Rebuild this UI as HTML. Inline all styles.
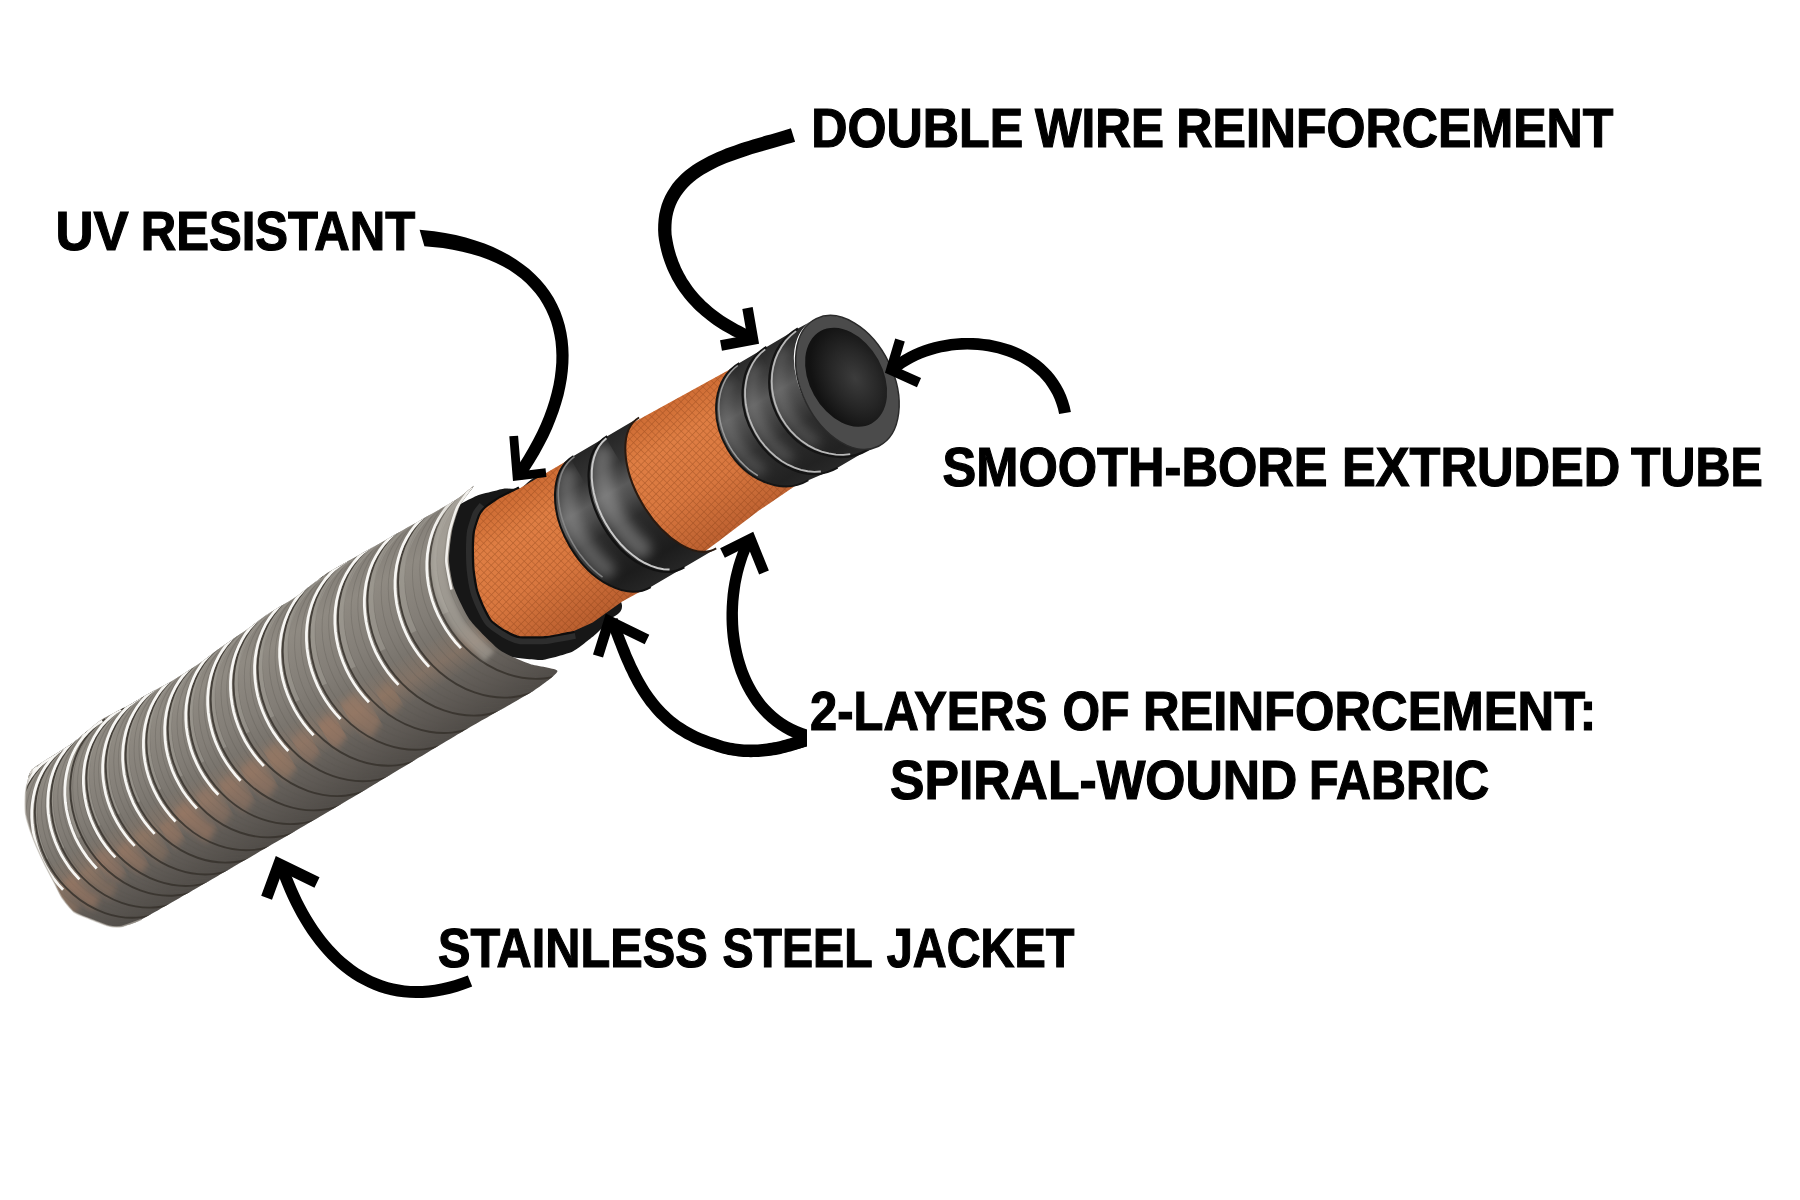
<!DOCTYPE html>
<html><head><meta charset="utf-8"><title>Hose diagram</title>
<style>html,body{margin:0;padding:0;background:#fff;overflow:hidden}svg{display:block}</style></head>
<body>
<svg width="1800" height="1200" viewBox="0 0 1800 1200">
<defs>
<linearGradient id="gSteel" gradientUnits="userSpaceOnUse" x1="0" y1="-100" x2="0" y2="105">
 <stop offset="0" stop-color="#847f78"/>
 <stop offset="0.15" stop-color="#8f8a82"/>
 <stop offset="0.4" stop-color="#837e77"/>
 <stop offset="0.6" stop-color="#746f68"/>
 <stop offset="0.8" stop-color="#615c57"/>
 <stop offset="1" stop-color="#4e4a46"/>
</linearGradient>
<linearGradient id="gCopper" gradientUnits="userSpaceOnUse" x1="0" y1="-100" x2="0" y2="105">
 <stop offset="0.52" stop-color="#c48a66" stop-opacity="0"/>
 <stop offset="0.64" stop-color="#c48a66" stop-opacity="0.6"/>
 <stop offset="0.74" stop-color="#c48a66" stop-opacity="0"/>
</linearGradient>
<linearGradient id="gOrange" gradientUnits="userSpaceOnUse" x1="0" y1="-80" x2="0" y2="75">
 <stop offset="0" stop-color="#c9662d"/>
 <stop offset="0.25" stop-color="#dc7b3f"/>
 <stop offset="0.6" stop-color="#d5733a"/>
 <stop offset="1" stop-color="#b35828"/>
</linearGradient>
<pattern id="pKnurl" patternUnits="userSpaceOnUse" width="5.2" height="5.2" patternTransform="rotate(75)">
 <rect width="5.2" height="5.2" fill="#ffb27a" fill-opacity="0.07"/>
 <path d="M0,0 H5.2 M0,0 V5.2" stroke="#7a3510" stroke-width="1.4" stroke-opacity="0.38"/>
</pattern>
<linearGradient id="gBlack" gradientUnits="userSpaceOnUse" x1="0" y1="-78" x2="0" y2="72">
 <stop offset="0" stop-color="#262626"/>
 <stop offset="0.18" stop-color="#343434"/>
 <stop offset="0.33" stop-color="#5a5a5a"/>
 <stop offset="0.42" stop-color="#4c4c4c"/>
 <stop offset="0.55" stop-color="#2c2c2c"/>
 <stop offset="0.85" stop-color="#1c1c1c"/>
 <stop offset="1" stop-color="#262626"/>
</linearGradient>
<linearGradient id="gTube" gradientUnits="userSpaceOnUse" x1="0" y1="-75" x2="0" y2="70">
 <stop offset="0" stop-color="#2a2a2a"/>
 <stop offset="0.15" stop-color="#3a3a3a"/>
 <stop offset="0.3" stop-color="#585858"/>
 <stop offset="0.42" stop-color="#484848"/>
 <stop offset="0.58" stop-color="#2e2e2e"/>
 <stop offset="0.85" stop-color="#222"/>
 <stop offset="1" stop-color="#2a2a2a"/>
</linearGradient>
<radialGradient id="gHole" cx="0.6" cy="0.55" r="0.55">
 <stop offset="0" stop-color="#3c3c3c"/>
 <stop offset="0.55" stop-color="#262626"/>
 <stop offset="1" stop-color="#121212"/>
</radialGradient>
<filter id="fBlur" x="-50%" y="-50%" width="200%" height="200%"><feGaussianBlur stdDeviation="5.5"/></filter>
<filter id="fBlur2" x="-50%" y="-50%" width="200%" height="200%"><feGaussianBlur stdDeviation="2"/></filter>
<filter id="fBlur3" x="-50%" y="-50%" width="200%" height="200%"><feGaussianBlur stdDeviation="3.2"/></filter>
<clipPath id="cJacket"><path d="M-377,-84 C-383.1,-82.6 -388.8,-74.3 -391,-72 C-393.2,-69.7 -397.5,-63.4 -399,-61 C-400.5,-58.6 -404.9,-50.8 -406,-48 C-407.1,-45.2 -409.3,-36.3 -410,-33 C-410.7,-29.7 -412.5,-18.8 -413,-15 C-413.5,-11.2 -414.7,1 -415,5 C-415.3,9 -415.8,21.3 -416,25 C-416.2,28.7 -417.2,38.5 -417,42 C-416.8,45.5 -415.3,56.8 -414,60 C-412.7,63.2 -406.3,71 -404,74 C-401.7,77 -393.4,87.7 -391,90 C-388.6,92.3 -383.1,95.9 -380,97 C-376.9,98.1 -368.8,100.5 -360,101 C-351.2,101.5 -314.2,101.8 -292,102 C-269.8,102.2 -168.9,103 -138,103 C-107.1,103 -6.2,102 17,102 C40.2,102 83.2,103.4 94,103 C104.8,102.6 123.9,100.5 125,98 C126.1,95.5 108.9,82.7 105,78 C101.1,73.3 89,57.8 86,51 C83,44.2 76.3,17.7 75.5,10 C74.7,2.3 76.8,-19.7 78,-26 C79.2,-32.3 85.2,-47.9 88,-53 C90.8,-58.1 102.3,-72.9 106,-77 C109.7,-81.1 120.9,-91.3 125,-94 C129.1,-96.7 147.1,-103.3 147,-104 C146.9,-104.7 133.9,-101.2 124,-101 C114.1,-100.8 61.3,-101.8 48,-102 C34.7,-102.2 -1.5,-102.9 -9,-103 C-16.5,-103.1 -21.5,-103.5 -27,-103 C-32.5,-102.5 -57.2,-99 -64,-98.5 C-70.8,-98 -88.9,-98.3 -95,-98 C-101.1,-97.7 -119.1,-95.5 -125,-95 C-130.9,-94.5 -148.3,-93.5 -154,-93 C-159.7,-92.5 -176.2,-90.4 -182,-90 C-187.8,-89.6 -206.4,-89 -212,-89 C-217.6,-89 -233.2,-89.9 -238,-90 C-242.8,-90.1 -254.4,-89.8 -260,-90 C-265.6,-90.2 -287,-91.9 -294,-91.5 C-301,-91.1 -321.7,-86.8 -330,-86 C-338.3,-85.2 -370.9,-85.4 -377,-84Z"/></clipPath>
</defs>
<rect width="1800" height="1200" fill="#fff"/>
<g transform="translate(400,650) rotate(-30.5)">
<path d="M162,-89 C159.7,-89.7 147.7,-93.5 144,-94 C140.3,-94.5 121.7,-95.8 118,-95 C114.3,-94.2 103,-87.8 100,-85 C97,-82.2 84.5,-66.2 82,-62 C79.5,-57.8 71.3,-38.8 70,-34 C68.7,-29.2 66.2,-9 66,-5 C65.8,-1 67.2,10.2 68,14 C68.8,17.8 74,37 76,41 C78,45 88.5,58.7 92,62 C95.5,65.3 113.3,78.8 118,81 C122.7,83.2 143.2,88.6 148,89 C152.8,89.4 170.8,86.8 175,86 C179.2,85.2 194.7,81.3 198,80 C201.3,78.7 213.6,82.8 215,70 C216.4,57.2 217.4,-61.7 215,-74 C212.6,-86.3 189.6,-77 186,-78 C182.4,-79 174,-85.1 172,-86 C170,-86.9 164.3,-88.3 162,-89Z" fill="#171717"/>
<path d="M160,72 C158.8,71.6 148.2,67.8 146,67 C143.8,66.2 136,63.5 133,62 C130,60.5 113.1,51.1 110.5,49 C107.9,46.9 102.8,39.3 101.5,37 C100.2,34.7 95,23.8 94.5,21 C94,18.2 94.7,6.8 95,4 C95.3,1.2 96.9,-9.1 97.7,-12 C98.5,-14.9 103.6,-27.9 105,-31 C106.4,-34 112.9,-45.9 114.5,-48.6 C116.1,-51.3 122.6,-61.4 124.5,-63.6 C126.4,-65.8 135.2,-73.7 137,-75 C138.8,-76.3 145.2,-78.4 146,-78.7" fill="none" stroke="#2d2d2d" stroke-width="16"/>
<path d="M160,72 C158.8,71.6 148.2,67.8 146,67 C143.8,66.2 136,63.5 133,62 C130,60.5 113.1,51.1 110.5,49 C107.9,46.9 102.8,39.3 101.5,37 C100.2,34.7 95,23.8 94.5,21 C94,18.2 94.7,6.8 95,4 C95.3,1.2 96.9,-9.1 97.7,-12 C98.5,-14.9 103.6,-27.9 105,-31 C106.4,-34 112.9,-45.9 114.5,-48.6 C116.1,-51.3 122.6,-61.4 124.5,-63.6 C126.4,-65.8 135.2,-73.7 137,-75 C138.8,-76.3 143.8,-78.3 146,-78.7 C148.2,-79.1 159.8,-80 163,-80 C166.2,-80 183.2,-78.6 185,-78.5" fill="none" stroke="#0d0d0d" stroke-width="4.5"/>
<path d="M160,72 C158.8,71.6 148.2,67.8 146,67 C143.8,66.2 136,63.5 133,62 C130,60.5 113.1,51.1 110.5,49 C107.9,46.9 102.8,39.3 101.5,37 C100.2,34.7 95,23.8 94.5,21 C94,18.2 94.7,6.8 95,4 C95.3,1.2 96.9,-9.1 97.7,-12 C98.5,-14.9 103.6,-27.9 105,-31 C106.4,-34 112.9,-45.9 114.5,-48.6 C116.1,-51.3 122.6,-61.4 124.5,-63.6 C126.4,-65.8 135.2,-73.7 137,-75 C138.8,-76.3 143.8,-78.3 146,-78.7 C148.2,-79.1 159.8,-80 163,-80 C166.2,-80 183.2,-78.6 185,-78.5 L300,-78 L440,-74 L440,58 L380,62 L330,68 L300,71 L250,72 L216,71 L180,74Z" fill="url(#gOrange)"/>
<path d="M160,72 C158.8,71.6 148.2,67.8 146,67 C143.8,66.2 136,63.5 133,62 C130,60.5 113.1,51.1 110.5,49 C107.9,46.9 102.8,39.3 101.5,37 C100.2,34.7 95,23.8 94.5,21 C94,18.2 94.7,6.8 95,4 C95.3,1.2 96.9,-9.1 97.7,-12 C98.5,-14.9 103.6,-27.9 105,-31 C106.4,-34 112.9,-45.9 114.5,-48.6 C116.1,-51.3 122.6,-61.4 124.5,-63.6 C126.4,-65.8 135.2,-73.7 137,-75 C138.8,-76.3 143.8,-78.3 146,-78.7 C148.2,-79.1 159.8,-80 163,-80 C166.2,-80 183.2,-78.6 185,-78.5 L300,-78 L440,-74 L440,58 L380,62 L330,68 L300,71 L250,72 L216,71 L180,74Z" fill="url(#pKnurl)"/>
<path d="M248,-79 A49,76 0 0 0 248,73 L287,73 A49,76 0 0 1 287,-79Z" fill="url(#gBlack)"/>
<path d="M287,-79 A49,76 0 0 0 287,73 L324,73 A41,76 0 0 1 324,-79Z" fill="url(#gBlack)"/>
<clipPath id="cr1"><path d="M248,-79 A49,76 0 0 0 248,73 L287,73 A49,76 0 0 1 287,-79Z"/></clipPath>
<g clip-path="url(#cr1)"><path d="M232.9,-65.3 L229.3,-61 L226,-56.2 L223,-50.9 L220.3,-45.2 L217.9,-39.2 L215.9,-32.8 L214.3,-26.2 L213.2,-19.4 L212.4,-12.5 L212,-5.5 L212.1,1.6 L212.6,8.6 L213.5,15.5 L214.8,22.2 L216.5,28.7 L218.6,35" fill="none" stroke="#a8a8a8" stroke-opacity="0.4" stroke-width="18" stroke-linecap="round" filter="url(#fBlur)"/></g>
<clipPath id="cr2"><path d="M287,-79 A49,76 0 0 0 287,73 L324,73 A41,76 0 0 1 324,-79Z"/></clipPath>
<g clip-path="url(#cr2)"><path d="M273.9,-65.3 L270.3,-61 L267,-56.2 L264,-50.9 L261.3,-45.2 L258.9,-39.2 L256.9,-32.8 L255.3,-26.2 L254.2,-19.4 L253.4,-12.5 L253,-5.5 L253.1,1.6 L253.6,8.6 L254.5,15.5 L255.8,22.2 L257.5,28.7 L259.6,35" fill="none" stroke="#a8a8a8" stroke-opacity="0.45" stroke-width="20" stroke-linecap="round" filter="url(#fBlur)"/></g>
<path d="M248,-79 A49,76 0 0 0 248,73" fill="none" stroke="#121212" stroke-width="2"/>
<path d="M248.4,-78 L244.2,-77.4 L240,-76.3 L236,-74.6 L232,-72.3 L228.2,-69.5 L224.6,-66.1 L221.1,-62.2 L217.9,-57.9 L215,-53.1 L212.3,-47.9 L210,-42.3 L207.9,-36.5 L206.2,-30.3 L204.9,-24 L203.9,-17.5 L203.3,-10.8 L203,-4.1 L203.1,2.6 L203.6,9.2 L204.5,15.8 L205.7,22.2 L207.3,28.4 L209.2,34.4 L211.5,40" fill="none" stroke="#8a8a8a" stroke-width="1.6" stroke-opacity="0.9"/>
<path d="M287,-79 A49,76 0 0 0 287,73" fill="none" stroke="#111" stroke-width="2.2"/>
<path d="M285.3,-77.7 L280,-76.5 L274.7,-74.4 L269.7,-71.3 L264.9,-67.4 L260.4,-62.7 L256.3,-57.2 L252.6,-51 L249.4,-44.2 L246.7,-36.9 L244.5,-29.2 L242.9,-21.1 L241.9,-12.8 L241.5,-4.4 L241.7,4.1 L242.5,12.4 L243.9,20.6 L245.9,28.4 L248.5,35.9 L251.5,42.9 L255.1,49.3 L259,55 L263.4,60 L268.1,64.1 L273.1,67.5" fill="none" stroke="#c8c8c8" stroke-width="2"/>
<path d="M324,-79 A41,76 0 0 0 324,73" fill="none" stroke="#2a1a10" stroke-width="2"/>
<path d="M438,-75 A53.7,68 0 0 0 438,61 L469.6,65 A55.4,70 0 0 1 469.6,-75Z" fill="url(#gTube)"/>
<path d="M469.6,-75 A55.4,70 0 0 0 469.6,65 L506,65 A62,70 0 0 1 506,-75Z" fill="url(#gTube)"/>
<path d="M506,-75 A62,70 0 0 0 506,65 L521.3,67.5 A46,71 0 0 1 521.3,-74.5Z" fill="url(#gTube)"/>
<clipPath id="cr3"><path d="M438,-75 A53.7,68 0 0 0 438,61 L469.6,65 A55.4,70 0 0 1 469.6,-75Z"/></clipPath>
<g clip-path="url(#cr3)"><path d="M417.2,-62.7 L413.3,-58.9 L409.6,-54.6 L406.3,-49.9 L403.4,-44.8 L400.8,-39.4 L398.6,-33.7 L396.9,-27.8 L395.6,-21.7 L394.7,-15.5 L394.3,-9.2 L394.4,-2.9 L394.9,3.3 L395.9,9.5 L397.3,15.6 L399.2,21.4 L401.5,27" fill="none" stroke="#a8a8a8" stroke-opacity="0.28" stroke-width="12" stroke-linecap="round" filter="url(#fBlur)"/></g>
<clipPath id="cr4"><path d="M469.6,-75 A55.4,70 0 0 0 469.6,65 L506,65 A62,70 0 0 1 506,-75Z"/></clipPath>
<g clip-path="url(#cr4)"><path d="M447.8,-62.3 L443.8,-58.4 L440,-54 L436.6,-49.1 L433.5,-43.9 L430.9,-38.3 L428.7,-32.5 L426.9,-26.4 L425.5,-20.2 L424.6,-13.8 L424.2,-7.3 L424.3,-0.8 L424.8,5.6 L425.9,12 L427.3,18.2 L429.3,24.2 L431.6,30" fill="none" stroke="#a8a8a8" stroke-opacity="0.3" stroke-width="12" stroke-linecap="round" filter="url(#fBlur)"/></g>
<clipPath id="cr5"><path d="M506,-75 A62,70 0 0 0 506,65 L521.3,67.5 A46,71 0 0 1 521.3,-74.5Z"/></clipPath>
<g clip-path="url(#cr5)"><path d="M480.4,-62.3 L475.9,-58.4 L471.7,-54 L467.9,-49.1 L464.4,-43.9 L461.5,-38.3 L459,-32.5 L457,-26.4 L455.5,-20.2 L454.5,-13.8 L454,-7.3 L454.1,-0.8 L454.7,5.6 L455.9,12 L457.5,18.2 L459.7,24.2 L462.3,30" fill="none" stroke="#a8a8a8" stroke-opacity="0.28" stroke-width="12" stroke-linecap="round" filter="url(#fBlur)"/></g>
<path d="M438,-75 A53.7,68 0 0 0 438,61" fill="none" stroke="#151515" stroke-width="2"/>
<path d="M435.4,-73.7 L430.8,-73 L426.4,-71.7 L422,-70 L417.7,-67.7 L413.7,-65 L409.8,-61.9 L406.1,-58.3 L402.7,-54.4 L399.6,-50.1 L396.8,-45.4 L394.4,-40.5 L392.2,-35.3 L390.5,-29.9 L389.1,-24.3 L388.1,-18.6 L387.5,-12.8 L387.3,-7 L387.5,-1.2 L388.1,4.6 L389.1,10.3 L390.5,15.9 L392.2,21.3 L394.4,26.5 L396.8,31.4" fill="none" stroke="#9a9a9a" stroke-width="1.5"/>
<path d="M469.6,-75 A55.4,70 0 0 0 469.6,65" fill="none" stroke="#141414" stroke-width="2.2"/>
<path d="M467.3,-73.7 L461.1,-72.6 L455.1,-70.7 L449.2,-67.8 L443.7,-64.2 L438.5,-59.9 L433.8,-54.8 L429.5,-49.2 L425.8,-42.9 L422.7,-36.2 L420.2,-29.1 L418.3,-21.6 L417.2,-14 L416.7,-6.3 L416.9,1.5 L417.9,9.2 L419.5,16.7 L421.8,23.9 L424.7,30.8 L428.3,37.2 L432.4,43.1 L437,48.3 L442,52.9 L447.4,56.8 L453.2,59.8" fill="none" stroke="#b8b8b8" stroke-width="1.8"/>
<path d="M506,-75 A62,70 0 0 0 506,65" fill="none" stroke="#141414" stroke-width="2.2"/>
<path d="M503.1,-73.7 L496.2,-72.6 L489.4,-70.7 L482.9,-67.8 L476.7,-64.2 L470.9,-59.9 L465.6,-54.8 L460.9,-49.2 L456.7,-42.9 L453.2,-36.2 L450.4,-29.1 L448.3,-21.6 L447,-14 L446.5,-6.3 L446.8,1.5 L447.8,9.2 L449.6,16.7 L452.2,23.9 L455.5,30.8 L459.4,37.2 L464,43.1 L469.2,48.3 L474.8,52.9 L480.9,56.8 L487.3,59.8" fill="none" stroke="#b8b8b8" stroke-width="1.8"/>
<g transform="translate(521.3,-3.5) rotate(4.5)"><ellipse cx="0" cy="0" rx="46" ry="71" fill="#4b4b4b" stroke="#2a2a2a" stroke-width="1.5"/></g>
<g transform="translate(522.8,-8.6) rotate(1.5)"><ellipse cx="0" cy="0" rx="36.7" ry="52.8" fill="url(#gHole)"/></g>
<path d="M-377,-84 C-383.1,-82.6 -388.8,-74.3 -391,-72 C-393.2,-69.7 -397.5,-63.4 -399,-61 C-400.5,-58.6 -404.9,-50.8 -406,-48 C-407.1,-45.2 -409.3,-36.3 -410,-33 C-410.7,-29.7 -412.5,-18.8 -413,-15 C-413.5,-11.2 -414.7,1 -415,5 C-415.3,9 -415.8,21.3 -416,25 C-416.2,28.7 -417.2,38.5 -417,42 C-416.8,45.5 -415.3,56.8 -414,60 C-412.7,63.2 -406.3,71 -404,74 C-401.7,77 -393.4,87.7 -391,90 C-388.6,92.3 -383.1,95.9 -380,97 C-376.9,98.1 -368.8,100.5 -360,101 C-351.2,101.5 -314.2,101.8 -292,102 C-269.8,102.2 -168.9,103 -138,103 C-107.1,103 -6.2,102 17,102 C40.2,102 83.2,103.4 94,103 C104.8,102.6 123.9,100.5 125,98 C126.1,95.5 108.9,82.7 105,78 C101.1,73.3 89,57.8 86,51 C83,44.2 76.3,17.7 75.5,10 C74.7,2.3 76.8,-19.7 78,-26 C79.2,-32.3 85.2,-47.9 88,-53 C90.8,-58.1 102.3,-72.9 106,-77 C109.7,-81.1 120.9,-91.3 125,-94 C129.1,-96.7 147.1,-103.3 147,-104 C146.9,-104.7 133.9,-101.2 124,-101 C114.1,-100.8 61.3,-101.8 48,-102 C34.7,-102.2 -1.5,-102.9 -9,-103 C-16.5,-103.1 -21.5,-103.5 -27,-103 C-32.5,-102.5 -57.2,-99 -64,-98.5 C-70.8,-98 -88.9,-98.3 -95,-98 C-101.1,-97.7 -119.1,-95.5 -125,-95 C-130.9,-94.5 -148.3,-93.5 -154,-93 C-159.7,-92.5 -176.2,-90.4 -182,-90 C-187.8,-89.6 -206.4,-89 -212,-89 C-217.6,-89 -233.2,-89.9 -238,-90 C-242.8,-90.1 -254.4,-89.8 -260,-90 C-265.6,-90.2 -287,-91.9 -294,-91.5 C-301,-91.1 -321.7,-86.8 -330,-86 C-338.3,-85.2 -370.9,-85.4 -377,-84Z" fill="url(#gSteel)"/>
<path d="M-377,-84 C-383.1,-82.6 -388.8,-74.3 -391,-72 C-393.2,-69.7 -397.5,-63.4 -399,-61 C-400.5,-58.6 -404.9,-50.8 -406,-48 C-407.1,-45.2 -409.3,-36.3 -410,-33 C-410.7,-29.7 -412.5,-18.8 -413,-15 C-413.5,-11.2 -414.7,1 -415,5 C-415.3,9 -415.8,21.3 -416,25 C-416.2,28.7 -417.2,38.5 -417,42 C-416.8,45.5 -415.3,56.8 -414,60 C-412.7,63.2 -406.3,71 -404,74 C-401.7,77 -393.4,87.7 -391,90 C-388.6,92.3 -383.1,95.9 -380,97 C-376.9,98.1 -368.8,100.5 -360,101 C-351.2,101.5 -314.2,101.8 -292,102 C-269.8,102.2 -168.9,103 -138,103 C-107.1,103 -6.2,102 17,102 C40.2,102 83.2,103.4 94,103 C104.8,102.6 123.9,100.5 125,98 C126.1,95.5 108.9,82.7 105,78 C101.1,73.3 89,57.8 86,51 C83,44.2 76.3,17.7 75.5,10 C74.7,2.3 76.8,-19.7 78,-26 C79.2,-32.3 85.2,-47.9 88,-53 C90.8,-58.1 102.3,-72.9 106,-77 C109.7,-81.1 120.9,-91.3 125,-94 C129.1,-96.7 147.1,-103.3 147,-104 C146.9,-104.7 133.9,-101.2 124,-101 C114.1,-100.8 61.3,-101.8 48,-102 C34.7,-102.2 -1.5,-102.9 -9,-103 C-16.5,-103.1 -21.5,-103.5 -27,-103 C-32.5,-102.5 -57.2,-99 -64,-98.5 C-70.8,-98 -88.9,-98.3 -95,-98 C-101.1,-97.7 -119.1,-95.5 -125,-95 C-130.9,-94.5 -148.3,-93.5 -154,-93 C-159.7,-92.5 -176.2,-90.4 -182,-90 C-187.8,-89.6 -206.4,-89 -212,-89 C-217.6,-89 -233.2,-89.9 -238,-90 C-242.8,-90.1 -254.4,-89.8 -260,-90 C-265.6,-90.2 -287,-91.9 -294,-91.5 C-301,-91.1 -321.7,-86.8 -330,-86 C-338.3,-85.2 -370.9,-85.4 -377,-84Z" fill="url(#gCopper)" opacity="0.35"/>
<g clip-path="url(#cJacket)" fill="none">
<path d="M-366.4,-82.8 A79.8,93.9 0 0 0 -366.4,105" stroke="#5a554f" stroke-width="0.9" stroke-opacity="0.3"/>
<path d="M-361.7,-82.8 A79.8,93.9 0 0 0 -361.7,105" stroke="#5a554f" stroke-width="0.9" stroke-opacity="0.3"/>
<path d="M-357.4,-82.8 A79.8,93.9 0 0 0 -357.4,105" stroke="#5a554f" stroke-width="0.9" stroke-opacity="0.3"/>
<path d="M-368.2,-82.8 L-373.2,-82.6 L-378.1,-82.1 L-383,-81.2 L-387.8,-79.9 L-392.5,-78.4 L-397.2,-76.4 L-401.7,-74.1 L-406.1,-71.6 L-410.4,-68.6 L-414.5,-65.4 L-418.4,-61.9 L-422.2,-58.1 L-425.7,-54.1 L-429,-49.8 L-432.1,-45.2 L-434.9,-40.5 L-437.5,-35.6 L-439.8,-30.4 L-441.9,-25.1 L-443.6,-19.7 L-445.1,-14.2 L-446.3,-8.6 L-447.2,-2.8 L-447.8,2.9" stroke="#b3aea6" stroke-width="3.4" stroke-opacity="0.35"/>
<path d="M-441.2,27.5 L-440.6,31.3 L-439.8,35.1 L-438.8,38.9 L-437.8,42.7 L-436.6,46.3 L-435.3,49.9 L-433.8,53.5 L-432.3,56.9 L-430.6,60.3 L-428.8,63.6" stroke="#a27a62" stroke-width="13.1" stroke-opacity="0.41" filter="url(#fBlur3)"/>
<path d="M-368.4,-82.8 A79.8,93.9 0 0 0 -368.4,105" stroke="#36312c" stroke-width="1.9" stroke-opacity="0.85"/>
<path d="M-372,-82.8 L-378.1,-82.5 L-384.3,-81.7 L-390.3,-80.3 L-396.2,-78.4 L-402,-75.9 L-407.6,-72.9 L-413,-69.5 L-418.2,-65.5 L-423,-61.1 L-427.6,-56.3 L-431.9,-51 L-435.7,-45.4 L-439.3,-39.5 L-442.4,-33.2 L-445.1,-26.7 L-447.3,-20 L-449.1,-13.1 L-450.5,-6 L-451.4,1.1 L-451.8,8.4 L-451.7,15.6 L-451.2,22.8 L-450.2,30 L-448.7,37" stroke="#f7f6f3" stroke-width="2.8"/>
<path d="M-347.4,-84.7 A80.6,94.8 0 0 0 -347.4,105" stroke="#5a554f" stroke-width="0.9" stroke-opacity="0.3"/>
<path d="M-342.5,-84.7 A80.6,94.8 0 0 0 -342.5,105" stroke="#5a554f" stroke-width="0.9" stroke-opacity="0.3"/>
<path d="M-338,-84.7 A80.6,94.8 0 0 0 -338,105" stroke="#5a554f" stroke-width="0.9" stroke-opacity="0.3"/>
<path d="M-349.3,-84.7 L-354.3,-84.5 L-359.3,-84 L-364.2,-83.1 L-369.1,-81.8 L-373.9,-80.2 L-378.5,-78.2 L-383.1,-75.9 L-387.6,-73.3 L-391.9,-70.4 L-396,-67.1 L-400,-63.6 L-403.8,-59.8 L-407.4,-55.7 L-410.7,-51.3 L-413.8,-46.7 L-416.7,-42 L-419.3,-37 L-421.6,-31.8 L-423.7,-26.4 L-425.5,-21 L-427,-15.4 L-428.2,-9.7 L-429.1,-3.9 L-429.6,1.9" stroke="#b3aea6" stroke-width="3.5" stroke-opacity="0.35"/>
<path d="M-422.3,29.9 L-421.7,33.2 L-420.9,36.5 L-420.1,39.8 L-419.1,43 L-418.1,46.2 L-416.9,49.3 L-415.7,52.4 L-414.3,55.4 L-412.9,58.4 L-411.4,61.3" stroke="#a27a62" stroke-width="13.6" stroke-opacity="0.46" filter="url(#fBlur3)"/>
<path d="M-349.6,-84.7 A80.6,94.8 0 0 0 -349.6,105" stroke="#36312c" stroke-width="1.9" stroke-opacity="0.85"/>
<path d="M-353.2,-84.7 L-359.4,-84.4 L-365.6,-83.6 L-371.7,-82.2 L-377.7,-80.2 L-383.5,-77.7 L-389.2,-74.7 L-394.6,-71.2 L-399.9,-67.2 L-404.8,-62.8 L-409.4,-57.9 L-413.7,-52.6 L-417.6,-46.9 L-421.2,-40.9 L-424.3,-34.6 L-427,-28 L-429.3,-21.2 L-431.1,-14.3 L-432.5,-7.1 L-433.4,0.1 L-433.8,7.4 L-433.7,14.7 L-433.2,22 L-432.2,29.2 L-430.7,36.3" stroke="#f7f6f3" stroke-width="2.8"/>
<path d="M-327.7,-86.6 A81.4,95.8 0 0 0 -327.7,105" stroke="#5a554f" stroke-width="0.9" stroke-opacity="0.3"/>
<path d="M-322.6,-86.6 A81.4,95.8 0 0 0 -322.6,105" stroke="#5a554f" stroke-width="0.9" stroke-opacity="0.3"/>
<path d="M-318,-86.6 A81.4,95.8 0 0 0 -318,105" stroke="#5a554f" stroke-width="0.9" stroke-opacity="0.3"/>
<path d="M-329.7,-86.6 L-334.7,-86.4 L-339.7,-85.9 L-344.7,-85 L-349.6,-83.7 L-354.5,-82.1 L-359.2,-80.1 L-363.8,-77.8 L-368.3,-75.1 L-372.7,-72.2 L-376.9,-68.9 L-380.9,-65.3 L-384.7,-61.5 L-388.3,-57.3 L-391.7,-52.9 L-394.8,-48.3 L-397.7,-43.5 L-400.4,-38.4 L-402.7,-33.2 L-404.8,-27.8 L-406.6,-22.3 L-408.1,-16.6 L-409.3,-10.9 L-410.2,-5 L-410.8,0.8" stroke="#b3aea6" stroke-width="3.6" stroke-opacity="0.35"/>
<path d="M-403.4,28.4 L-402.7,32.3 L-401.8,36.2 L-400.7,40 L-399.6,43.8 L-398.3,47.5 L-396.9,51.1 L-395.3,54.7 L-393.6,58.2 L-391.8,61.6 L-389.9,64.9" stroke="#a27a62" stroke-width="14.2" stroke-opacity="0.55" filter="url(#fBlur3)"/>
<path d="M-330.1,-86.6 A81.4,95.8 0 0 0 -330.1,105" stroke="#36312c" stroke-width="1.9" stroke-opacity="0.85"/>
<path d="M-333.7,-86.6 L-340,-86.3 L-346.2,-85.5 L-352.4,-84.1 L-358.5,-82.1 L-364.4,-79.6 L-370.1,-76.6 L-375.6,-73 L-380.8,-69 L-385.8,-64.5 L-390.5,-59.5 L-394.8,-54.2 L-398.8,-48.5 L-402.4,-42.4 L-405.5,-36 L-408.3,-29.4 L-410.6,-22.5 L-412.4,-15.5 L-413.8,-8.3 L-414.7,-1 L-415.1,6.4 L-415.1,13.8 L-414.5,21.1 L-413.5,28.4 L-412,35.6" stroke="#f7f6f3" stroke-width="2.8"/>
<path d="M-307.2,-88.6 A82.3,96.8 0 0 0 -307.2,105" stroke="#5a554f" stroke-width="0.9" stroke-opacity="0.3"/>
<path d="M-301.9,-88.6 A82.3,96.8 0 0 0 -301.9,105" stroke="#5a554f" stroke-width="0.9" stroke-opacity="0.3"/>
<path d="M-297.1,-88.6 A82.3,96.8 0 0 0 -297.1,105" stroke="#5a554f" stroke-width="0.9" stroke-opacity="0.3"/>
<path d="M-309.3,-88.6 L-314.4,-88.5 L-319.5,-87.9 L-324.5,-87 L-329.4,-85.7 L-334.3,-84.1 L-339.1,-82.1 L-343.8,-79.7 L-348.4,-77.1 L-352.8,-74 L-357,-70.7 L-361.1,-67.1 L-364.9,-63.2 L-368.5,-59 L-372,-54.6 L-375.1,-49.9 L-378.1,-45 L-380.7,-39.9 L-383.1,-34.6 L-385.2,-29.2 L-387,-23.6 L-388.6,-17.9 L-389.8,-12.1 L-390.7,-6.2 L-391.3,-0.3" stroke="#b3aea6" stroke-width="3.8" stroke-opacity="0.35"/>
<path d="M-383.3,29.3 L-382.5,33 L-381.6,36.7 L-380.6,40.4 L-379.5,44 L-378.2,47.6 L-376.8,51 L-375.3,54.5 L-373.7,57.8 L-371.9,61.1 L-370.1,64.3" stroke="#a27a62" stroke-width="14.7" stroke-opacity="0.36" filter="url(#fBlur3)"/>
<path d="M-309.9,-88.6 A82.3,96.8 0 0 0 -309.9,105" stroke="#36312c" stroke-width="1.9" stroke-opacity="0.85"/>
<path d="M-313.5,-88.6 L-319.8,-88.4 L-326.1,-87.5 L-332.4,-86.1 L-338.5,-84.1 L-344.4,-81.5 L-350.2,-78.5 L-355.8,-74.9 L-361.1,-70.8 L-366.1,-66.3 L-370.8,-61.3 L-375.2,-55.9 L-379.2,-50.1 L-382.9,-44 L-386.1,-37.5 L-388.8,-30.8 L-391.2,-23.9 L-393,-16.7 L-394.4,-9.5 L-395.3,-2.1 L-395.8,5.4 L-395.7,12.8 L-395.2,20.3 L-394.1,27.6 L-392.6,34.9" stroke="#f7f6f3" stroke-width="2.8"/>
<path d="M-286,-90.1 A82.9,97.6 0 0 0 -286,105" stroke="#5a554f" stroke-width="0.9" stroke-opacity="0.3"/>
<path d="M-280.5,-90.1 A82.9,97.6 0 0 0 -280.5,105" stroke="#5a554f" stroke-width="0.9" stroke-opacity="0.3"/>
<path d="M-275.5,-90.1 A82.9,97.6 0 0 0 -275.5,105" stroke="#5a554f" stroke-width="0.9" stroke-opacity="0.3"/>
<path d="M-288.1,-90.1 L-293.3,-89.9 L-298.4,-89.4 L-303.4,-88.5 L-308.4,-87.2 L-313.4,-85.5 L-318.2,-83.5 L-322.9,-81.1 L-327.5,-78.4 L-331.9,-75.4 L-336.2,-72.1 L-340.3,-68.4 L-344.2,-64.5 L-347.8,-60.3 L-351.3,-55.8 L-354.5,-51.1 L-357.4,-46.2 L-360.1,-41 L-362.5,-35.7 L-364.6,-30.2 L-366.5,-24.6 L-368,-18.8 L-369.2,-13 L-370.1,-7.1 L-370.7,-1.1" stroke="#b3aea6" stroke-width="3.9" stroke-opacity="0.35"/>
<path d="M-363.6,21.6 L-363.2,25 L-362.6,28.5 L-361.9,31.9 L-361.1,35.3 L-360.1,38.7 L-359.1,42 L-358,45.3 L-356.8,48.5 L-355.5,51.7 L-354.1,54.8" stroke="#a27a62" stroke-width="15.3" stroke-opacity="0.41" filter="url(#fBlur3)"/>
<path d="M-288.9,-90.1 A82.9,97.6 0 0 0 -288.9,105" stroke="#36312c" stroke-width="1.9" stroke-opacity="0.85"/>
<path d="M-292.5,-90.1 L-298.9,-89.8 L-305.2,-89 L-311.5,-87.5 L-317.7,-85.5 L-323.7,-83 L-329.5,-79.9 L-335.1,-76.3 L-340.5,-72.2 L-345.5,-67.6 L-350.3,-62.5 L-354.7,-57.1 L-358.7,-51.3 L-362.4,-45.1 L-365.6,-38.6 L-368.4,-31.9 L-370.7,-24.9 L-372.6,-17.7 L-374,-10.3 L-375,-2.9 L-375.4,4.6 L-375.3,12.1 L-374.8,19.6 L-373.7,27 L-372.2,34.3" stroke="#f7f6f3" stroke-width="2.8"/>
<path d="M-263.9,-90.5 A83.1,97.7 0 0 0 -263.9,105" stroke="#5a554f" stroke-width="0.9" stroke-opacity="0.3"/>
<path d="M-258.2,-90.5 A83.1,97.7 0 0 0 -258.2,105" stroke="#5a554f" stroke-width="0.9" stroke-opacity="0.3"/>
<path d="M-253,-90.5 A83.1,97.7 0 0 0 -253,105" stroke="#5a554f" stroke-width="0.9" stroke-opacity="0.3"/>
<path d="M-266.1,-90.5 L-271.3,-90.3 L-276.4,-89.7 L-281.5,-88.8 L-286.5,-87.5 L-291.4,-85.9 L-296.3,-83.8 L-301,-81.5 L-305.6,-78.8 L-310,-75.7 L-314.3,-72.4 L-318.4,-68.8 L-322.3,-64.8 L-326,-60.6 L-329.4,-56.1 L-332.6,-51.4 L-335.6,-46.5 L-338.3,-41.3 L-340.7,-36 L-342.8,-30.5 L-344.6,-24.8 L-346.2,-19.1 L-347.4,-13.2 L-348.3,-7.3 L-348.9,-1.3" stroke="#b3aea6" stroke-width="4.1" stroke-opacity="0.35"/>
<path d="M-340.6,27.7 L-340,30.9 L-339.2,34.1 L-338.4,37.3 L-337.5,40.4 L-336.5,43.6 L-335.4,46.6 L-334.2,49.6 L-332.9,52.6 L-331.6,55.5 L-330.2,58.4" stroke="#a27a62" stroke-width="15.9" stroke-opacity="0.49" filter="url(#fBlur3)"/>
<path d="M-267.1,-90.5 A83.1,97.7 0 0 0 -267.1,105" stroke="#36312c" stroke-width="1.9" stroke-opacity="0.85"/>
<path d="M-270.7,-90.5 L-277.1,-90.2 L-283.4,-89.3 L-289.7,-87.9 L-295.9,-85.9 L-301.9,-83.3 L-307.8,-80.2 L-313.4,-76.6 L-318.7,-72.5 L-323.8,-67.9 L-328.6,-62.9 L-333,-57.4 L-337,-51.6 L-340.7,-45.4 L-343.9,-38.9 L-346.7,-32.1 L-349.1,-25.1 L-351,-17.9 L-352.4,-10.6 L-353.3,-3.1 L-353.7,4.4 L-353.7,11.9 L-353.1,19.4 L-352.1,26.9 L-350.5,34.2" stroke="#f7f6f3" stroke-width="2.8"/>
<path d="M-241,-90.9 A83.2,97.9 0 0 0 -241,105" stroke="#5a554f" stroke-width="0.9" stroke-opacity="0.3"/>
<path d="M-235.1,-90.9 A83.2,97.9 0 0 0 -235.1,105" stroke="#5a554f" stroke-width="0.9" stroke-opacity="0.3"/>
<path d="M-229.7,-90.9 A83.2,97.9 0 0 0 -229.7,105" stroke="#5a554f" stroke-width="0.9" stroke-opacity="0.3"/>
<path d="M-243.3,-90.9 L-248.5,-90.7 L-253.6,-90.1 L-258.7,-89.2 L-263.7,-87.9 L-268.6,-86.2 L-273.5,-84.2 L-278.2,-81.8 L-282.8,-79.1 L-287.3,-76.1 L-291.6,-72.7 L-295.7,-69.1 L-299.6,-65.1 L-303.2,-60.9 L-306.7,-56.4 L-309.9,-51.7 L-312.9,-46.7 L-315.6,-41.6 L-318,-36.2 L-320.1,-30.7 L-322,-25.1 L-323.5,-19.3 L-324.7,-13.4 L-325.6,-7.5 L-326.3,-1.5" stroke="#b3aea6" stroke-width="4.2" stroke-opacity="0.35"/>
<path d="M-318.3,23.8 L-317.7,27.5 L-316.9,31.2 L-316.1,34.8 L-315.1,38.4 L-314,42 L-312.8,45.5 L-311.5,49 L-310.1,52.4 L-308.5,55.7 L-306.9,58.9" stroke="#a27a62" stroke-width="16.5" stroke-opacity="0.34" filter="url(#fBlur3)"/>
<path d="M-244.4,-90.9 A83.2,97.9 0 0 0 -244.4,105" stroke="#36312c" stroke-width="1.9" stroke-opacity="0.85"/>
<path d="M-248,-90.9 L-254.4,-90.6 L-260.8,-89.7 L-267.1,-88.3 L-273.3,-86.2 L-279.3,-83.7 L-285.2,-80.6 L-290.8,-77 L-296.2,-72.8 L-301.3,-68.2 L-306,-63.2 L-310.5,-57.7 L-314.5,-51.9 L-318.2,-45.7 L-321.4,-39.2 L-324.2,-32.4 L-326.6,-25.4 L-328.5,-18.1 L-329.9,-10.8 L-330.8,-3.3 L-331.2,4.2 L-331.2,11.8 L-330.6,19.3 L-329.6,26.7 L-328,34.1" stroke="#f7f6f3" stroke-width="2.8"/>
<path d="M-217.2,-91.3 A83.4,98.1 0 0 0 -217.2,105" stroke="#5a554f" stroke-width="0.9" stroke-opacity="0.3"/>
<path d="M-211.1,-91.3 A83.4,98.1 0 0 0 -211.1,105" stroke="#5a554f" stroke-width="0.9" stroke-opacity="0.3"/>
<path d="M-205.5,-91.3 A83.4,98.1 0 0 0 -205.5,105" stroke="#5a554f" stroke-width="0.9" stroke-opacity="0.3"/>
<path d="M-219.6,-91.3 L-224.8,-91.1 L-229.9,-90.5 L-235,-89.6 L-240,-88.3 L-245,-86.6 L-249.9,-84.6 L-254.6,-82.2 L-259.2,-79.5 L-263.7,-76.5 L-268,-73.1 L-272.1,-69.4 L-276,-65.5 L-279.7,-61.2 L-283.1,-56.8 L-286.3,-52 L-289.3,-47.1 L-292,-41.9 L-294.4,-36.5 L-296.6,-31 L-298.4,-25.3 L-300,-19.6 L-301.2,-13.7 L-302.1,-7.7 L-302.7,-1.7" stroke="#b3aea6" stroke-width="4.4" stroke-opacity="0.35"/>
<path d="M-293.2,30.7 L-292.7,33 L-292.1,35.4 L-291.5,37.7 L-290.8,40.1 L-290.1,42.4 L-289.3,44.6 L-288.5,46.9 L-287.6,49.1 L-286.7,51.3 L-285.7,53.5" stroke="#a27a62" stroke-width="17.1" stroke-opacity="0.49" filter="url(#fBlur3)"/>
<path d="M-220.9,-91.3 A83.4,98.1 0 0 0 -220.9,105" stroke="#36312c" stroke-width="1.9" stroke-opacity="0.85"/>
<path d="M-224.5,-91.3 L-230.9,-91 L-237.3,-90.1 L-243.6,-88.6 L-249.8,-86.6 L-255.9,-84.1 L-261.7,-80.9 L-267.4,-77.3 L-272.7,-73.2 L-277.8,-68.6 L-282.6,-63.5 L-287.1,-58 L-291.1,-52.2 L-294.8,-46 L-298,-39.4 L-300.9,-32.7 L-303.2,-25.6 L-305.1,-18.4 L-306.5,-11 L-307.5,-3.5 L-307.9,4 L-307.8,11.6 L-307.3,19.1 L-306.2,26.6 L-304.7,33.9" stroke="#f7f6f3" stroke-width="2.8"/>
<path d="M-192.5,-91.7 A83.6,98.3 0 0 0 -192.5,105" stroke="#5a554f" stroke-width="0.9" stroke-opacity="0.3"/>
<path d="M-186.1,-91.7 A83.6,98.3 0 0 0 -186.1,105" stroke="#5a554f" stroke-width="0.9" stroke-opacity="0.3"/>
<path d="M-180.3,-91.7 A83.6,98.3 0 0 0 -180.3,105" stroke="#5a554f" stroke-width="0.9" stroke-opacity="0.3"/>
<path d="M-195,-91.7 L-200.2,-91.5 L-205.3,-90.9 L-210.4,-90 L-215.5,-88.7 L-220.4,-87 L-225.3,-85 L-230.1,-82.6 L-234.7,-79.9 L-239.2,-76.8 L-243.5,-73.5 L-247.6,-69.8 L-251.5,-65.8 L-255.2,-61.6 L-258.7,-57.1 L-261.9,-52.3 L-264.9,-47.4 L-267.6,-42.2 L-270,-36.8 L-272.1,-31.3 L-274,-25.6 L-275.5,-19.8 L-276.8,-13.9 L-277.7,-7.9 L-278.3,-1.9" stroke="#b3aea6" stroke-width="4.6" stroke-opacity="0.35"/>
<path d="M-269.8,22.9 L-269.1,27.3 L-268.3,31.7 L-267.2,35.9 L-266,40.2 L-264.6,44.4 L-263.1,48.4 L-261.4,52.4 L-259.5,56.4 L-257.5,60.2 L-255.4,63.9" stroke="#a27a62" stroke-width="17.7" stroke-opacity="0.55" filter="url(#fBlur3)"/>
<path d="M-196.5,-91.7 A83.6,98.3 0 0 0 -196.5,105" stroke="#36312c" stroke-width="1.9" stroke-opacity="0.85"/>
<path d="M-200.1,-91.7 L-206.5,-91.4 L-212.9,-90.5 L-219.2,-89 L-225.5,-87 L-231.5,-84.5 L-237.4,-81.3 L-243,-77.7 L-248.4,-73.6 L-253.5,-68.9 L-258.3,-63.9 L-262.8,-58.4 L-266.8,-52.5 L-270.5,-46.3 L-273.8,-39.7 L-276.6,-32.9 L-279,-25.9 L-280.9,-18.6 L-282.3,-11.3 L-283.2,-3.8 L-283.6,3.8 L-283.6,11.4 L-283,18.9 L-282,26.4 L-280.4,33.8" stroke="#f7f6f3" stroke-width="2.8"/>
<path d="M-166.8,-92.5 A83.9,98.7 0 0 0 -166.8,105" stroke="#5a554f" stroke-width="0.9" stroke-opacity="0.3"/>
<path d="M-160.3,-92.5 A83.9,98.7 0 0 0 -160.3,105" stroke="#5a554f" stroke-width="0.9" stroke-opacity="0.3"/>
<path d="M-154.2,-92.5 A83.9,98.7 0 0 0 -154.2,105" stroke="#5a554f" stroke-width="0.9" stroke-opacity="0.3"/>
<path d="M-169.5,-92.5 L-174.7,-92.3 L-179.8,-91.7 L-184.9,-90.8 L-190,-89.5 L-195,-87.8 L-199.9,-85.7 L-204.7,-83.4 L-209.3,-80.6 L-213.8,-77.6 L-218.1,-74.2 L-222.2,-70.5 L-226.2,-66.5 L-229.9,-62.3 L-233.4,-57.7 L-236.6,-53 L-239.6,-48 L-242.3,-42.8 L-244.7,-37.4 L-246.9,-31.8 L-248.7,-26.1 L-250.3,-20.3 L-251.5,-14.4 L-252.5,-8.4 L-253.1,-2.3" stroke="#b3aea6" stroke-width="4.7" stroke-opacity="0.35"/>
<path d="M-244.6,21 L-244,24.8 L-243.3,28.7 L-242.5,32.4 L-241.5,36.2 L-240.5,39.9 L-239.3,43.5 L-238,47.1 L-236.5,50.6 L-235,54.1 L-233.3,57.5" stroke="#a27a62" stroke-width="18.4" stroke-opacity="0.38" filter="url(#fBlur3)"/>
<path d="M-171.1,-92.5 A83.9,98.7 0 0 0 -171.1,105" stroke="#36312c" stroke-width="1.9" stroke-opacity="0.85"/>
<path d="M-174.7,-92.5 L-181.2,-92.2 L-187.6,-91.3 L-194,-89.8 L-200.2,-87.8 L-206.3,-85.2 L-212.2,-82.1 L-217.9,-78.4 L-223.3,-74.3 L-228.4,-69.6 L-233.2,-64.6 L-237.7,-59 L-241.8,-53.1 L-245.4,-46.9 L-248.7,-40.3 L-251.6,-33.5 L-253.9,-26.4 L-255.8,-19.1 L-257.3,-11.7 L-258.2,-4.2 L-258.6,3.4 L-258.6,11 L-258,18.6 L-256.9,26.1 L-255.4,33.5" stroke="#f7f6f3" stroke-width="2.8"/>
<path d="M-140.2,-94.8 A84.9,99.9 0 0 0 -140.2,105" stroke="#5a554f" stroke-width="0.9" stroke-opacity="0.3"/>
<path d="M-133.4,-94.8 A84.9,99.9 0 0 0 -133.4,105" stroke="#5a554f" stroke-width="0.9" stroke-opacity="0.3"/>
<path d="M-127.1,-94.8 A84.9,99.9 0 0 0 -127.1,105" stroke="#5a554f" stroke-width="0.9" stroke-opacity="0.3"/>
<path d="M-142.9,-94.8 L-148.2,-94.6 L-153.4,-94 L-158.6,-93.1 L-163.7,-91.7 L-168.8,-90 L-173.7,-88 L-178.5,-85.6 L-183.2,-82.8 L-187.8,-79.7 L-192.1,-76.3 L-196.3,-72.6 L-200.3,-68.5 L-204.1,-64.2 L-207.6,-59.6 L-210.9,-54.8 L-213.9,-49.8 L-216.6,-44.5 L-219.1,-39.1 L-221.3,-33.4 L-223.1,-27.7 L-224.7,-21.8 L-226,-15.8 L-226.9,-9.7 L-227.5,-3.6" stroke="#b3aea6" stroke-width="4.9" stroke-opacity="0.35"/>
<path d="M-218.4,21.9 L-217.8,25.6 L-217.1,29.3 L-216.3,33 L-215.3,36.6 L-214.2,40.2 L-213.1,43.7 L-211.8,47.1 L-210.4,50.5 L-208.8,53.9 L-207.2,57.1" stroke="#a27a62" stroke-width="19.1" stroke-opacity="0.45" filter="url(#fBlur3)"/>
<path d="M-144.8,-94.8 A84.9,99.9 0 0 0 -144.8,105" stroke="#36312c" stroke-width="1.9" stroke-opacity="0.85"/>
<path d="M-148.4,-94.8 L-154.9,-94.5 L-161.4,-93.6 L-167.9,-92.1 L-174.2,-90.1 L-180.3,-87.4 L-186.3,-84.3 L-192,-80.6 L-197.5,-76.4 L-202.7,-71.7 L-207.6,-66.5 L-212.1,-61 L-216.2,-55 L-219.9,-48.7 L-223.3,-42 L-226.1,-35.1 L-228.5,-27.9 L-230.5,-20.6 L-231.9,-13.1 L-232.8,-5.5 L-233.3,2.2 L-233.2,9.9 L-232.6,17.6 L-231.6,25.2 L-230,32.6" stroke="#f7f6f3" stroke-width="2.8"/>
<path d="M-112.6,-97.2 A85.9,101.1 0 0 0 -112.6,105" stroke="#5a554f" stroke-width="0.9" stroke-opacity="0.3"/>
<path d="M-105.5,-97.2 A85.9,101.1 0 0 0 -105.5,105" stroke="#5a554f" stroke-width="0.9" stroke-opacity="0.3"/>
<path d="M-98.9,-97.2 A85.9,101.1 0 0 0 -98.9,105" stroke="#5a554f" stroke-width="0.9" stroke-opacity="0.3"/>
<path d="M-115.4,-97.2 L-120.7,-97 L-126,-96.4 L-131.2,-95.4 L-136.4,-94.1 L-141.5,-92.4 L-146.5,-90.3 L-151.4,-87.8 L-156.2,-85 L-160.8,-81.9 L-165.2,-78.5 L-169.4,-74.7 L-173.4,-70.6 L-177.2,-66.2 L-180.8,-61.6 L-184.1,-56.7 L-187.2,-51.6 L-190,-46.3 L-192.5,-40.8 L-194.7,-35.1 L-196.6,-29.3 L-198.1,-23.3 L-199.4,-17.2 L-200.4,-11.1 L-201,-4.9" stroke="#b3aea6" stroke-width="5.1" stroke-opacity="0.35"/>
<path d="M-191.6,20.6 L-191,24.4 L-190.3,28.2 L-189.5,31.9 L-188.5,35.5 L-187.4,39.2 L-186.2,42.7 L-184.9,46.3 L-183.5,49.7 L-181.9,53.1 L-180.3,56.4" stroke="#a27a62" stroke-width="19.9" stroke-opacity="0.49" filter="url(#fBlur3)"/>
<path d="M-117.5,-97.2 A85.9,101.1 0 0 0 -117.5,105" stroke="#36312c" stroke-width="1.9" stroke-opacity="0.85"/>
<path d="M-121.1,-97.2 L-127.7,-96.9 L-134.3,-96 L-140.8,-94.5 L-147.2,-92.4 L-153.4,-89.7 L-159.4,-86.5 L-165.2,-82.8 L-170.8,-78.5 L-176,-73.8 L-180.9,-68.6 L-185.5,-62.9 L-189.7,-56.9 L-193.5,-50.5 L-196.8,-43.8 L-199.7,-36.8 L-202.1,-29.5 L-204.1,-22.1 L-205.6,-14.5 L-206.5,-6.8 L-207,1 L-206.9,8.8 L-206.3,16.5 L-205.2,24.2 L-203.7,31.8" stroke="#f7f6f3" stroke-width="2.8"/>
<path d="M-83.9,-99.5 A86.9,102.2 0 0 0 -83.9,105" stroke="#5a554f" stroke-width="0.9" stroke-opacity="0.3"/>
<path d="M-76.5,-99.5 A86.9,102.2 0 0 0 -76.5,105" stroke="#5a554f" stroke-width="0.9" stroke-opacity="0.3"/>
<path d="M-69.7,-99.5 A86.9,102.2 0 0 0 -69.7,105" stroke="#5a554f" stroke-width="0.9" stroke-opacity="0.3"/>
<path d="M-86.8,-99.5 L-92.2,-99.3 L-97.5,-98.7 L-102.8,-97.7 L-108.1,-96.3 L-113.2,-94.6 L-118.3,-92.5 L-123.2,-90 L-128,-87.2 L-132.7,-84 L-137.2,-80.5 L-141.4,-76.7 L-145.5,-72.6 L-149.4,-68.2 L-153,-63.5 L-156.3,-58.6 L-159.4,-53.4 L-162.2,-48 L-164.7,-42.4 L-167,-36.7 L-168.9,-30.8 L-170.5,-24.8 L-171.8,-18.6 L-172.7,-12.4 L-173.4,-6.1" stroke="#b3aea6" stroke-width="5.3" stroke-opacity="0.35"/>
<path d="M-163.9,18.2 L-163.4,21.7 L-162.8,25.1 L-162.1,28.4 L-161.3,31.8 L-160.4,35.1 L-159.4,38.4 L-158.3,41.6 L-157.2,44.8 L-155.9,48 L-154.6,51" stroke="#a27a62" stroke-width="20.6" stroke-opacity="0.52" filter="url(#fBlur3)"/>
<path d="M-89.1,-99.5 A86.9,102.2 0 0 0 -89.1,105" stroke="#36312c" stroke-width="1.9" stroke-opacity="0.85"/>
<path d="M-92.7,-99.5 L-99.4,-99.2 L-106,-98.2 L-112.6,-96.7 L-119.1,-94.6 L-125.4,-92 L-131.5,-88.7 L-137.3,-84.9 L-143,-80.6 L-148.3,-75.8 L-153.2,-70.6 L-157.9,-64.9 L-162.1,-58.8 L-165.9,-52.3 L-169.3,-45.5 L-172.2,-38.4 L-174.7,-31.1 L-176.7,-23.5 L-178.1,-15.9 L-179.1,-8.1 L-179.6,-0.2 L-179.5,7.7 L-178.9,15.5 L-177.8,23.3 L-176.2,30.9" stroke="#f7f6f3" stroke-width="2.8"/>
<path d="M-54.1,-101.3 A87.7,103.1 0 0 0 -54.1,105" stroke="#5a554f" stroke-width="0.9" stroke-opacity="0.3"/>
<path d="M-46.4,-101.3 A87.7,103.1 0 0 0 -46.4,105" stroke="#5a554f" stroke-width="0.9" stroke-opacity="0.3"/>
<path d="M-39.4,-101.3 A87.7,103.1 0 0 0 -39.4,105" stroke="#5a554f" stroke-width="0.9" stroke-opacity="0.3"/>
<path d="M-57.1,-101.3 L-62.5,-101.1 L-67.9,-100.5 L-73.3,-99.5 L-78.6,-98.2 L-83.8,-96.4 L-88.9,-94.3 L-93.9,-91.8 L-98.7,-88.9 L-103.4,-85.7 L-107.9,-82.2 L-112.2,-78.4 L-116.3,-74.2 L-120.2,-69.7 L-123.9,-65 L-127.2,-60 L-130.4,-54.8 L-133.2,-49.4 L-135.7,-43.8 L-138,-38 L-139.9,-32 L-141.5,-25.9 L-142.8,-19.7 L-143.8,-13.5 L-144.5,-7.1" stroke="#b3aea6" stroke-width="5.5" stroke-opacity="0.35"/>
<path d="M-134,21.3 L-133.5,24.2 L-132.9,27.1 L-132.3,30 L-131.6,32.9 L-130.8,35.7 L-129.9,38.5 L-129,41.2 L-128,44 L-126.9,46.7 L-125.8,49.3" stroke="#a27a62" stroke-width="21.4" stroke-opacity="0.38" filter="url(#fBlur3)"/>
<path d="M-59.6,-101.3 A87.7,103.1 0 0 0 -59.6,105" stroke="#36312c" stroke-width="1.9" stroke-opacity="0.85"/>
<path d="M-63.2,-101.3 L-70,-101 L-76.7,-100.1 L-83.3,-98.6 L-89.8,-96.4 L-96.2,-93.7 L-102.4,-90.5 L-108.3,-86.6 L-113.9,-82.3 L-119.3,-77.5 L-124.3,-72.1 L-129,-66.4 L-133.3,-60.2 L-137.1,-53.7 L-140.5,-46.8 L-143.5,-39.7 L-146,-32.3 L-148,-24.7 L-149.4,-16.9 L-150.4,-9.1 L-150.9,-1.1 L-150.8,6.8 L-150.2,14.7 L-149.1,22.6 L-147.5,30.3" stroke="#f7f6f3" stroke-width="2.8"/>
<path d="M-23.1,-103.2 A88.5,104.1 0 0 0 -23.1,105" stroke="#5a554f" stroke-width="0.9" stroke-opacity="0.3"/>
<path d="M-15.2,-103.2 A88.5,104.1 0 0 0 -15.2,105" stroke="#5a554f" stroke-width="0.9" stroke-opacity="0.3"/>
<path d="M-7.9,-103.2 A88.5,104.1 0 0 0 -7.9,105" stroke="#5a554f" stroke-width="0.9" stroke-opacity="0.3"/>
<path d="M-26.3,-103.2 L-31.7,-103 L-37.2,-102.4 L-42.6,-101.4 L-47.9,-100 L-53.2,-98.3 L-58.4,-96.1 L-63.4,-93.6 L-68.3,-90.7 L-73,-87.5 L-77.6,-83.9 L-81.9,-80.1 L-86.1,-75.9 L-90,-71.4 L-93.7,-66.6 L-97.1,-61.6 L-100.2,-56.3 L-103.1,-50.8 L-105.6,-45.1 L-107.9,-39.3 L-109.9,-33.3 L-111.5,-27.1 L-112.8,-20.9 L-113.8,-14.6 L-114.4,-8.2" stroke="#b3aea6" stroke-width="5.7" stroke-opacity="0.35"/>
<path d="M-103.6,20.7 L-103.1,23.7 L-102.5,26.6 L-101.8,29.6 L-101.1,32.5 L-100.3,35.3 L-99.4,38.2 L-98.4,41 L-97.4,43.8 L-96.3,46.5 L-95.1,49.2" stroke="#a27a62" stroke-width="22.2" stroke-opacity="0.55" filter="url(#fBlur3)"/>
<path d="M-29,-103.2 A88.5,104.1 0 0 0 -29,105" stroke="#36312c" stroke-width="1.9" stroke-opacity="0.85"/>
<path d="M-32.6,-103.2 L-39.4,-102.9 L-46.2,-102 L-52.9,-100.4 L-59.5,-98.3 L-65.9,-95.6 L-72.1,-92.3 L-78.1,-88.4 L-83.8,-84 L-89.2,-79.1 L-94.3,-73.8 L-99,-68 L-103.3,-61.8 L-107.2,-55.2 L-110.6,-48.2 L-113.6,-41 L-116.1,-33.6 L-118.1,-25.9 L-119.6,-18.1 L-120.6,-10.1 L-121.1,-2.1 L-121,5.9 L-120.4,13.9 L-119.3,21.8 L-117.7,29.6" stroke="#f7f6f3" stroke-width="2.8"/>
<path d="M9,-104 A88.8,104.5 0 0 0 9,105" stroke="#5a554f" stroke-width="0.9" stroke-opacity="0.3"/>
<path d="M17.3,-104 A88.8,104.5 0 0 0 17.3,105" stroke="#5a554f" stroke-width="0.9" stroke-opacity="0.3"/>
<path d="M24.9,-104 A88.8,104.5 0 0 0 24.9,105" stroke="#5a554f" stroke-width="0.9" stroke-opacity="0.3"/>
<path d="M5.7,-104 L0.2,-103.8 L-5.2,-103.2 L-10.6,-102.2 L-16,-100.8 L-21.3,-99 L-26.5,-96.9 L-31.5,-94.4 L-36.4,-91.5 L-41.2,-88.2 L-45.7,-84.7 L-50.1,-80.8 L-54.3,-76.5 L-58.2,-72 L-61.9,-67.3 L-65.3,-62.2 L-68.5,-56.9 L-71.4,-51.4 L-73.9,-45.7 L-76.2,-39.8 L-78.2,-33.8 L-79.8,-27.6 L-81.1,-21.4 L-82.1,-15 L-82.8,-8.6" stroke="#b3aea6" stroke-width="5.9" stroke-opacity="0.35"/>
<path d="M-72.2,15.8 L-71.6,20.1 L-70.9,24.3 L-69.9,28.6 L-68.9,32.7 L-67.7,36.8 L-66.3,40.9 L-64.8,44.9 L-63.2,48.7 L-61.4,52.6 L-59.5,56.3" stroke="#a27a62" stroke-width="23.1" stroke-opacity="0.53" filter="url(#fBlur3)"/>
<path d="M2.7,-104 A88.8,104.5 0 0 0 2.7,105" stroke="#36312c" stroke-width="1.9" stroke-opacity="0.85"/>
<path d="M-0.9,-104 L-7.7,-103.7 L-14.5,-102.8 L-21.2,-101.2 L-27.8,-99.1 L-34.3,-96.3 L-40.5,-93 L-46.5,-89.2 L-52.2,-84.8 L-57.7,-79.8 L-62.8,-74.5 L-67.5,-68.6 L-71.8,-62.4 L-75.7,-55.8 L-79.2,-48.8 L-82.2,-41.6 L-84.7,-34.1 L-86.7,-26.4 L-88.2,-18.5 L-89.2,-10.6 L-89.7,-2.5 L-89.6,5.5 L-89,13.5 L-87.9,21.5 L-86.2,29.3" stroke="#f7f6f3" stroke-width="2.8"/>
<path d="M42.4,-104 A88.8,104.5 0 0 0 42.4,105" stroke="#5a554f" stroke-width="0.9" stroke-opacity="0.3"/>
<path d="M51,-104 A88.8,104.5 0 0 0 51,105" stroke="#5a554f" stroke-width="0.9" stroke-opacity="0.3"/>
<path d="M58.8,-104 A88.8,104.5 0 0 0 58.8,105" stroke="#5a554f" stroke-width="0.9" stroke-opacity="0.3"/>
<path d="M39,-104 L33.5,-103.8 L28,-103.2 L22.6,-102.2 L17.2,-100.8 L12,-99 L6.8,-96.9 L1.7,-94.4 L-3.2,-91.5 L-7.9,-88.2 L-12.5,-84.7 L-16.9,-80.8 L-21,-76.5 L-25,-72 L-28.7,-67.3 L-32.1,-62.2 L-35.2,-56.9 L-38.1,-51.4 L-40.7,-45.7 L-43,-39.8 L-44.9,-33.8 L-46.6,-27.6 L-47.9,-21.4 L-48.9,-15 L-49.5,-8.6" stroke="#b3aea6" stroke-width="6.2" stroke-opacity="0.35"/>
<path d="M-37.4,23.5 L-36.9,26.1 L-36.3,28.7 L-35.6,31.3 L-34.9,33.9 L-34.2,36.5 L-33.3,39 L-32.5,41.5 L-31.5,44 L-30.5,46.4 L-29.5,48.9" stroke="#a27a62" stroke-width="24.0" stroke-opacity="0.34" filter="url(#fBlur3)"/>
<path d="M35.7,-104 A88.8,104.5 0 0 0 35.7,105" stroke="#36312c" stroke-width="1.9" stroke-opacity="0.85"/>
<path d="M32.1,-104 L25.3,-103.7 L18.5,-102.8 L11.8,-101.2 L5.2,-99.1 L-1.3,-96.3 L-7.5,-93 L-13.5,-89.2 L-19.3,-84.8 L-24.7,-79.8 L-29.8,-74.5 L-34.5,-68.6 L-38.8,-62.4 L-42.7,-55.8 L-46.2,-48.8 L-49.2,-41.6 L-51.7,-34.1 L-53.7,-26.4 L-55.2,-18.5 L-56.2,-10.6 L-56.7,-2.5 L-56.6,5.5 L-56,13.5 L-54.9,21.5 L-53.3,29.3" stroke="#f7f6f3" stroke-width="2.8"/>
<path d="M77,-104 A88.8,104.5 0 0 0 77,105" stroke="#5a554f" stroke-width="0.9" stroke-opacity="0.3"/>
<path d="M85.9,-104 A88.8,104.5 0 0 0 85.9,105" stroke="#5a554f" stroke-width="0.9" stroke-opacity="0.3"/>
<path d="M94.1,-104 A88.8,104.5 0 0 0 94.1,105" stroke="#5a554f" stroke-width="0.9" stroke-opacity="0.3"/>
<path d="M73.5,-104 L68,-103.8 L62.5,-103.2 L57.1,-102.2 L51.7,-100.8 L46.5,-99 L41.3,-96.9 L36.2,-94.4 L31.3,-91.5 L26.6,-88.2 L22,-84.7 L17.6,-80.8 L13.5,-76.5 L9.5,-72 L5.9,-67.3 L2.4,-62.2 L-0.7,-56.9 L-3.6,-51.4 L-6.2,-45.7 L-8.5,-39.8 L-10.4,-33.8 L-12.1,-27.6 L-13.4,-21.4 L-14.4,-15 L-15,-8.6" stroke="#b3aea6" stroke-width="6.4" stroke-opacity="0.35"/>
<path d="M70,-104 A88.8,104.5 0 0 0 70,105" stroke="#36312c" stroke-width="1.9" stroke-opacity="0.85"/>
<path d="M66.4,-104 L59.5,-103.7 L52.7,-102.8 L46,-101.2 L39.4,-99.1 L33,-96.3 L26.7,-93 L20.7,-89.2 L15,-84.8 L9.6,-79.8 L4.5,-74.5 L-0.2,-68.6 L-4.6,-62.4 L-8.5,-55.8 L-11.9,-48.8 L-14.9,-41.6 L-17.4,-34.1 L-19.5,-26.4 L-21,-18.5 L-22,-10.6 L-22.4,-2.5 L-22.4,5.5 L-21.8,13.5 L-20.6,21.5 L-19,29.3" stroke="#f7f6f3" stroke-width="2.8"/>
<path d="M113,-104 A88.8,104.5 0 0 0 113,105" stroke="#5a554f" stroke-width="0.9" stroke-opacity="0.3"/>
<path d="M122.2,-104 A88.8,104.5 0 0 0 122.2,105" stroke="#5a554f" stroke-width="0.9" stroke-opacity="0.3"/>
<path d="M130.7,-104 A88.8,104.5 0 0 0 130.7,105" stroke="#5a554f" stroke-width="0.9" stroke-opacity="0.3"/>
<path d="M109.3,-104 L103.8,-103.8 L98.4,-103.2 L92.9,-102.2 L87.6,-100.8 L82.3,-99 L77.1,-96.9 L72.1,-94.4 L67.2,-91.5 L62.4,-88.2 L57.8,-84.7 L53.5,-80.8 L49.3,-76.5 L45.4,-72 L41.7,-67.3 L38.3,-62.2 L35.1,-56.9 L32.2,-51.4 L29.6,-45.7 L27.4,-39.8 L25.4,-33.8 L23.8,-27.6 L22.5,-21.4 L21.5,-15 L20.8,-8.6" stroke="#b3aea6" stroke-width="6.6" stroke-opacity="0.35"/>
<path d="M105.5,-104 A88.8,104.5 0 0 0 105.5,105" stroke="#36312c" stroke-width="1.9" stroke-opacity="0.85"/>
<path d="M101.9,-104 L95.1,-103.7 L88.3,-102.8 L81.6,-101.2 L75,-99.1 L68.5,-96.3 L62.3,-93 L56.3,-89.2 L50.6,-84.8 L45.1,-79.8 L40,-74.5 L35.3,-68.6 L31,-62.4 L27.1,-55.8 L23.6,-48.8 L20.6,-41.6 L18.1,-34.1 L16.1,-26.4 L14.6,-18.5 L13.6,-10.6 L13.1,-2.5 L13.2,5.5 L13.8,13.5 L14.9,21.5 L16.5,29.3" stroke="#f7f6f3" stroke-width="2.8"/>
<path d="M150.2,-104 A88.8,104.5 0 0 0 150.2,105" stroke="#5a554f" stroke-width="0.9" stroke-opacity="0.3"/>
<path d="M159.7,-104 A88.8,104.5 0 0 0 159.7,105" stroke="#5a554f" stroke-width="0.9" stroke-opacity="0.3"/>
<path d="M168.5,-104 A88.8,104.5 0 0 0 168.5,105" stroke="#5a554f" stroke-width="0.9" stroke-opacity="0.3"/>
<path d="M146.4,-104 L141,-103.8 L135.5,-103.2 L130.1,-102.2 L124.7,-100.8 L119.4,-99 L114.3,-96.9 L109.2,-94.4 L104.3,-91.5 L99.5,-88.2 L95,-84.7 L90.6,-80.8 L86.4,-76.5 L82.5,-72 L78.8,-67.3 L75.4,-62.2 L72.2,-56.9 L69.4,-51.4 L66.8,-45.7 L64.5,-39.8 L62.5,-33.8 L60.9,-27.6 L59.6,-21.4 L58.6,-15 L58,-8.6" stroke="#b3aea6" stroke-width="6.8" stroke-opacity="0.35"/>
<path d="M142.4,-104 A88.8,104.5 0 0 0 142.4,105" stroke="#36312c" stroke-width="1.9" stroke-opacity="0.85"/>
<path d="M138.8,-104 L132,-103.7 L125.2,-102.8 L118.5,-101.2 L111.9,-99.1 L105.5,-96.3 L99.2,-93 L93.2,-89.2 L87.5,-84.8 L82,-79.8 L77,-74.5 L72.2,-68.6 L67.9,-62.4 L64,-55.8 L60.5,-48.8 L57.5,-41.6 L55,-34.1 L53,-26.4 L51.5,-18.5 L50.5,-10.6 L50.1,-2.5 L50.1,5.5 L50.7,13.5 L51.8,21.5 L53.5,29.3" stroke="#f7f6f3" stroke-width="2.8"/>
<path d="M135,-104 C132.8,-103 117.1,-96.7 113,-94 C108.9,-91.3 97.7,-81.1 94,-77 C90.3,-72.9 78.8,-58.1 76,-53 C73.2,-47.9 67.2,-32.3 66,-26 C64.8,-19.7 62.7,2.3 63.5,10 C64.3,17.7 73,46.9 74,51" stroke="#bdb8b0" stroke-width="14" stroke-opacity="0.45" filter="url(#fBlur2)"/>
<path d="M144,-104 C141.8,-103 126.1,-96.7 122,-94 C117.9,-91.3 106.7,-81.1 103,-77 C99.3,-72.9 87.8,-58.1 85,-53 C82.2,-47.9 76,-28.7 75,-26" stroke="#f2f0ec" stroke-width="2.6"/>
</g>
<path d="M-377,-84 C-378.4,-82.8 -388.8,-74.3 -391,-72 C-393.2,-69.7 -397.5,-63.4 -399,-61 C-400.5,-58.6 -404.9,-50.8 -406,-48 C-407.1,-45.2 -409.3,-36.3 -410,-33 C-410.7,-29.7 -412.5,-18.8 -413,-15 C-413.5,-11.2 -414.7,1 -415,5 C-415.3,9 -415.8,21.3 -416,25 C-416.2,28.7 -417.2,38.5 -417,42 C-416.8,45.5 -415.3,56.8 -414,60 C-412.7,63.2 -406.3,71 -404,74 C-401.7,77 -393.4,87.7 -391,90 C-388.6,92.3 -383.1,95.9 -380,97 C-376.9,98.1 -362,100.6 -360,101" fill="none" stroke="#b9b4ac" stroke-width="1.5" stroke-opacity="0.6"/>
</g>
<g fill="none" stroke="#000" stroke-linecap="butt" stroke-linejoin="round">
<path d="M424.4,246.2 L432.3,246.9 L442.8,248.1 L452.8,249.7 L462.3,251.7 L471.3,254.0 L479.9,256.6 L488.0,259.5 L495.6,262.7 L502.7,266.2 L509.4,270.0 L515.5,274.2 L521.2,278.6 L526.5,283.3 L531.2,288.2 L535.6,293.3 L539.5,298.6 L543.0,304.2 L546.1,309.9 L548.8,315.9 L551.1,322.0 L552.9,328.3 L554.4,334.9 L555.5,341.5 L556.1,348.4 L556.4,355.4 L556.3,362.5 L555.7,369.8 L554.8,377.2 L553.5,384.8 L551.7,392.4 L549.6,400.2 L547.1,408.0 L544.2,415.9 L540.9,423.9 L537.2,431.9 L533.1,440.0 L528.7,448.1 L523.9,456.2 L518.7,464.4 L513.1,472.5 L522.9,479.5 L528.7,471.0 L534.1,462.6 L539.2,454.1 L543.8,445.6 L548.1,437.2 L552.0,428.7 L555.4,420.3 L558.5,411.9 L561.2,403.6 L563.5,395.4 L565.3,387.2 L566.8,379.1 L567.8,371.0 L568.4,363.1 L568.6,355.3 L568.3,347.6 L567.6,340.0 L566.4,332.6 L564.8,325.3 L562.7,318.2 L560.2,311.3 L557.1,304.5 L553.7,298.0 L549.7,291.7 L545.3,285.7 L540.4,279.9 L535.0,274.4 L529.1,269.1 L522.8,264.2 L516.1,259.5 L508.9,255.1 L501.3,250.9 L493.1,247.0 L484.5,243.5 L475.4,240.4 L465.8,237.6 L455.8,235.1 L445.2,233.0 L434.2,231.3 L419.6,229.8Z" fill="#000" stroke="none"/>
<path d="M513.7,436 L517,476 L546,472.7" stroke-width="8.8" stroke-linejoin="miter" stroke-miterlimit="10"/>
<path d="M790.9,128.3 L787.0,129.5 L783.0,130.7 L778.9,132.0 L774.7,133.2 L770.5,134.4 L766.1,135.6 L761.7,136.9 L757.3,138.2 L752.8,139.5 L748.3,140.9 L743.8,142.3 L739.2,143.8 L734.7,145.4 L730.2,147.0 L725.8,148.6 L721.4,150.4 L717.0,152.3 L712.7,154.2 L708.4,156.3 L704.3,158.4 L700.2,160.7 L696.3,163.1 L692.4,165.6 L688.7,168.3 L685.1,171.1 L681.7,174.1 L678.5,177.3 L675.4,180.6 L672.5,184.1 L669.9,187.9 L667.5,191.7 L665.3,195.8 L663.4,200.1 L661.7,204.6 L660.4,209.3 L659.3,214.1 L658.6,219.2 L658.2,224.4 L658.1,229.9 L658.4,235.5 L659.0,239.9 L659.7,243.8 L660.5,247.7 L661.4,251.5 L662.4,255.2 L663.6,258.9 L664.8,262.4 L666.1,266.0 L667.5,269.4 L669.0,272.8 L670.6,276.1 L672.3,279.4 L674.1,282.6 L676.0,285.7 L677.9,288.8 L680.0,291.7 L682.1,294.6 L684.3,297.5 L686.6,300.3 L689.0,303.0 L691.4,305.6 L693.9,308.2 L696.5,310.7 L699.1,313.1 L701.9,315.5 L704.7,317.8 L707.5,320.1 L710.4,322.3 L713.4,324.4 L716.4,326.5 L719.5,328.5 L722.7,330.4 L725.9,332.3 L729.1,334.1 L732.4,335.9 L735.8,337.6 L739.2,339.2 L742.6,340.8 L746.1,342.3 L749.6,343.8 L754.4,332.2 L751.0,330.8 L747.8,329.4 L744.5,327.9 L741.4,326.3 L738.2,324.7 L735.2,323.0 L732.2,321.3 L729.2,319.6 L726.3,317.8 L723.5,315.9 L720.7,314.0 L718.0,312.0 L715.3,310.0 L712.7,307.9 L710.2,305.8 L707.7,303.6 L705.3,301.4 L703.0,299.1 L700.7,296.8 L698.6,294.4 L696.5,292.0 L694.4,289.5 L692.5,286.9 L690.6,284.3 L688.8,281.6 L687.0,278.9 L685.4,276.1 L683.8,273.2 L682.3,270.3 L680.9,267.4 L679.6,264.3 L678.3,261.2 L677.2,258.1 L676.1,254.9 L675.1,251.6 L674.2,248.2 L673.4,244.8 L672.7,241.3 L672.1,237.8 L671.6,234.5 L671.4,229.7 L671.5,225.1 L671.8,220.7 L672.4,216.5 L673.3,212.5 L674.4,208.8 L675.7,205.2 L677.3,201.8 L679.1,198.5 L681.0,195.4 L683.2,192.4 L685.6,189.5 L688.1,186.7 L690.9,184.1 L693.8,181.6 L696.9,179.1 L700.1,176.8 L703.5,174.6 L707.1,172.5 L710.7,170.4 L714.5,168.5 L718.4,166.6 L722.4,164.8 L726.5,163.1 L730.7,161.4 L735.0,159.9 L739.2,158.4 L743.6,156.9 L748.0,155.5 L752.3,154.1 L756.8,152.8 L761.2,151.5 L765.5,150.2 L769.9,149.0 L774.3,147.8 L778.6,146.6 L782.8,145.3 L787.0,144.1 L791.1,142.9 L795.1,141.7Z" fill="#000" stroke="none"/>
<path d="M747.5,308 L753,339.5 L721,345.5" stroke-width="10.5" stroke-linejoin="miter" stroke-miterlimit="10"/>
<path d="M1070.9,411.9 L1069.6,406.0 L1067.9,400.4 L1065.9,395.0 L1063.5,389.8 L1060.9,384.9 L1057.9,380.2 L1054.7,375.8 L1051.2,371.6 L1047.5,367.7 L1043.6,364.0 L1039.4,360.6 L1035.1,357.4 L1030.5,354.4 L1025.8,351.7 L1021.0,349.3 L1016.0,347.1 L1010.9,345.1 L1005.7,343.4 L1000.4,341.9 L995.0,340.7 L989.5,339.6 L984.0,338.9 L978.4,338.3 L972.8,338.0 L967.2,337.9 L961.6,338.1 L956.0,338.5 L950.4,339.1 L944.8,339.9 L939.3,341.0 L933.8,342.3 L928.4,343.8 L923.1,345.6 L917.9,347.6 L912.8,349.8 L907.8,352.3 L902.9,355.0 L898.2,358.0 L893.7,361.2 L889.3,364.6 L896.7,373.4 L900.5,370.4 L904.6,367.6 L908.8,365.0 L913.2,362.5 L917.7,360.3 L922.3,358.3 L927.0,356.5 L931.8,354.9 L936.8,353.5 L941.7,352.3 L946.8,351.4 L951.9,350.6 L957.0,350.1 L962.1,349.7 L967.3,349.6 L972.4,349.7 L977.5,350.0 L982.6,350.5 L987.6,351.2 L992.6,352.2 L997.4,353.3 L1002.2,354.7 L1006.9,356.2 L1011.5,358.0 L1015.9,360.0 L1020.2,362.1 L1024.4,364.5 L1028.3,367.1 L1032.1,369.9 L1035.7,372.9 L1039.1,376.1 L1042.3,379.5 L1045.3,383.1 L1048.0,386.9 L1050.5,390.9 L1052.8,395.1 L1054.8,399.5 L1056.5,404.2 L1058.0,409.0 L1059.1,414.1Z" fill="#000" stroke="none"/>
<path d="M900,340 L891,370 L919,382.6" stroke-width="10" stroke-linejoin="miter" stroke-miterlimit="10"/>
<path d="M804.6,733.0 L802.4,733.8 L800.3,734.7 L798.1,735.5 L795.9,736.3 L793.7,737.0 L791.5,737.7 L789.3,738.4 L787.1,739.1 L784.9,739.7 L782.6,740.3 L780.4,740.9 L778.1,741.4 L775.9,741.9 L773.6,742.3 L771.4,742.7 L769.1,743.1 L766.8,743.5 L764.5,743.7 L762.3,744.0 L760.0,744.2 L757.7,744.4 L755.4,744.5 L753.2,744.6 L750.9,744.6 L748.6,744.6 L746.4,744.5 L744.1,744.4 L741.8,744.3 L739.6,744.1 L737.3,743.8 L735.1,743.5 L732.9,743.1 L730.6,742.7 L728.4,742.3 L726.2,741.7 L724.0,741.2 L721.8,740.5 L719.6,739.8 L717.4,739.1 L715.2,738.3 L710.3,736.7 L706.0,735.1 L701.9,733.4 L697.9,731.7 L694.0,729.8 L690.3,727.8 L686.8,725.8 L683.4,723.6 L680.1,721.4 L676.9,719.1 L673.9,716.7 L671.0,714.2 L668.2,711.6 L665.5,709.0 L662.9,706.3 L660.4,703.5 L657.9,700.6 L655.6,697.6 L653.3,694.6 L651.2,691.5 L649.1,688.4 L647.0,685.1 L645.1,681.8 L643.2,678.5 L641.3,675.0 L639.5,671.6 L637.8,668.0 L636.0,664.4 L634.4,660.8 L632.7,657.1 L631.1,653.4 L629.6,649.6 L628.0,645.7 L626.5,641.9 L624.9,638.0 L623.4,634.0 L621.9,630.1 L620.4,626.1 L618.9,622.0 L617.4,618.0 L606.6,622.0 L608.1,626.1 L609.6,630.1 L611.1,634.1 L612.6,638.1 L614.1,642.1 L615.7,646.1 L617.2,650.0 L618.8,654.0 L620.4,657.9 L622.0,661.7 L623.7,665.6 L625.4,669.4 L627.2,673.1 L629.0,676.9 L630.9,680.5 L632.8,684.2 L634.8,687.8 L636.9,691.3 L639.1,694.8 L641.4,698.2 L643.7,701.6 L646.1,704.9 L648.7,708.1 L651.3,711.3 L654.1,714.4 L656.9,717.4 L659.9,720.3 L663.0,723.2 L666.2,726.0 L669.6,728.7 L673.1,731.3 L676.7,733.8 L680.5,736.1 L684.4,738.4 L688.5,740.6 L692.7,742.7 L697.1,744.7 L701.6,746.5 L706.3,748.2 L710.8,749.7 L713.2,750.6 L715.7,751.5 L718.2,752.3 L720.7,753.0 L723.2,753.7 L725.7,754.3 L728.2,754.9 L730.7,755.3 L733.2,755.8 L735.7,756.1 L738.3,756.4 L740.8,756.7 L743.3,756.9 L745.8,757.0 L748.4,757.1 L750.9,757.2 L753.4,757.1 L755.9,757.1 L758.5,757.0 L761.0,756.8 L763.5,756.6 L766.0,756.3 L768.5,756.0 L771.0,755.7 L773.5,755.3 L776.0,754.9 L778.4,754.4 L780.9,753.9 L783.3,753.3 L785.8,752.7 L788.2,752.1 L790.6,751.5 L793.0,750.8 L795.4,750.0 L797.8,749.3 L800.1,748.5 L802.5,747.7 L804.8,746.8 L807.1,745.9 L809.4,745.0Z" fill="#000" stroke="none"/>
<path d="M598,656 L609,621 L647,639.5" stroke-width="10.5" stroke-linejoin="miter" stroke-miterlimit="10"/>
<path d="M808.7,730.0 L803.4,728.3 L798.3,726.3 L793.4,724.1 L788.7,721.6 L784.3,718.8 L780.1,715.8 L776.1,712.5 L772.3,709.1 L768.6,705.3 L765.2,701.4 L762.1,697.3 L759.1,693.0 L756.3,688.5 L753.7,683.8 L751.3,679.0 L749.1,674.0 L747.1,668.9 L745.3,663.6 L743.7,658.3 L742.3,652.8 L741.1,647.3 L740.1,641.7 L739.3,636.0 L738.6,630.3 L738.2,624.5 L738.0,618.7 L737.9,612.9 L738.1,607.1 L738.4,601.4 L739.0,595.6 L739.7,589.9 L740.5,584.3 L741.6,578.7 L742.8,573.2 L744.3,567.7 L745.9,562.4 L747.6,557.2 L749.6,552.2 L751.7,547.2 L753.9,542.5 L744.1,537.5 L741.6,542.7 L739.3,548.0 L737.2,553.4 L735.3,559.0 L733.5,564.7 L732.0,570.5 L730.6,576.3 L729.4,582.3 L728.4,588.3 L727.6,594.4 L727.1,600.5 L726.7,606.6 L726.5,612.8 L726.5,619.0 L726.7,625.1 L727.1,631.3 L727.7,637.4 L728.5,643.5 L729.6,649.5 L730.8,655.5 L732.3,661.4 L734.0,667.2 L735.9,672.9 L738.1,678.5 L740.4,684.0 L743.0,689.3 L745.9,694.5 L749.0,699.6 L752.3,704.4 L755.8,709.1 L759.7,713.5 L763.7,717.8 L768.0,721.8 L772.6,725.5 L777.4,729.0 L782.5,732.3 L787.8,735.2 L793.4,737.8 L799.2,740.1 L805.3,742.0Z" fill="#000" stroke="none"/>
<path d="M722.5,553 L750.5,539 L764,572.5" stroke-width="10.5" stroke-linejoin="miter" stroke-miterlimit="10"/>
<path d="M467.8,975.4 L460.9,978.0 L454.1,980.2 L447.5,982.1 L441.0,983.5 L434.6,984.7 L428.3,985.5 L422.2,985.9 L416.3,986.0 L410.4,985.9 L404.7,985.4 L399.1,984.6 L393.6,983.5 L388.3,982.2 L383.0,980.5 L377.9,978.6 L372.9,976.4 L368.0,974.0 L363.2,971.3 L358.5,968.4 L353.9,965.2 L349.5,961.8 L345.1,958.2 L340.9,954.4 L336.8,950.3 L332.7,946.0 L328.8,941.6 L325.1,936.9 L321.4,932.0 L317.8,927.0 L314.4,921.8 L311.1,916.5 L307.9,910.9 L304.8,905.3 L301.8,899.5 L299.0,893.5 L296.3,887.5 L293.7,881.3 L291.2,875.0 L288.9,868.6 L286.7,862.1 L275.3,865.9 L277.6,872.6 L280.0,879.2 L282.6,885.8 L285.3,892.2 L288.1,898.6 L291.1,904.8 L294.2,910.8 L297.4,916.8 L300.8,922.6 L304.3,928.3 L307.9,933.8 L311.7,939.1 L315.6,944.3 L319.7,949.3 L323.8,954.1 L328.2,958.7 L332.6,963.1 L337.2,967.3 L342.0,971.2 L346.9,974.9 L351.9,978.4 L357.1,981.7 L362.4,984.6 L367.8,987.3 L373.4,989.7 L379.2,991.9 L385.0,993.7 L391.0,995.2 L397.1,996.4 L403.4,997.3 L409.7,997.8 L416.2,998.0 L422.8,997.9 L429.5,997.4 L436.4,996.5 L443.3,995.3 L450.4,993.7 L457.6,991.7 L464.8,989.3 L472.2,986.6Z" fill="#000" stroke="none"/>
<path d="M266.6,897.8 L279,864 L317,882.5" stroke-width="11.5" stroke-linejoin="miter" stroke-miterlimit="10"/>
<path d="M794,729 L807,731.5 L807,746.5 L794,750Z" fill="#000" stroke="none"/><rect x="807" y="724" width="3.5" height="32" fill="#fff" stroke="none"/>
</g>
<g font-family="&quot;Liberation Sans&quot;, sans-serif" font-weight="bold" font-size="56" fill="#000" stroke="#000" stroke-width="1.2">
<text transform="translate(811.3,147.2) scale(0.8966,1)">DOUBLE</text>
<text transform="translate(1034.9,147.2) scale(0.8836,1)">WIRE</text>
<text transform="translate(1176.3,147.2) scale(0.8951,1)">REINFORCEMENT</text>
<text transform="translate(55.4,249.7) scale(0.9421,1)">UV</text>
<text transform="translate(140.7,249.7) scale(0.8768,1)">RESISTANT</text>
<text transform="translate(942.5,485.7) scale(0.9038,1)">SMOOTH-BORE</text>
<text transform="translate(1342.0,485.7) scale(0.9036,1)">EXTRUDED</text>
<text transform="translate(1631.0,485.7) scale(0.8642,1)">TUBE</text>
<text transform="translate(810.1,729.7) scale(0.8730,1)">2-LAYERS</text>
<text transform="translate(1062.4,729.7) scale(0.8632,1)">OF</text>
<text transform="translate(1142.9,729.7) scale(0.9057,1)">REINFORCEMENT:</text>
<text transform="translate(890.1,799.2) scale(0.9221,1)">SPIRAL-WOUND</text>
<text transform="translate(1309.1,799.2) scale(0.8649,1)">FABRIC</text>
<text transform="translate(438.0,967.2) scale(0.8695,1)">STAINLESS</text>
<text transform="translate(722.5,967.2) scale(0.8318,1)">STEEL</text>
<text transform="translate(886.7,967.2) scale(0.8379,1)">JACKET</text>
</g>
</svg>
</body></html>
